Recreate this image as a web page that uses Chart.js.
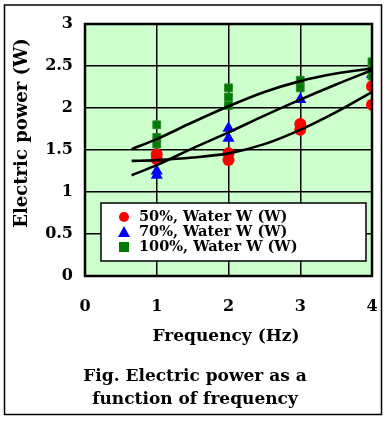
<!DOCTYPE html>
<html><head><meta charset="utf-8">
<script src="https://cdn.jsdelivr.net/npm/chart.js@4/dist/chart.umd.min.js"></script>
<style>html,body{margin:0;padding:0;background:#fff}#wrap{width:386px;height:421px}</style>
</head><body><div id="wrap"><canvas id="c"></canvas></div>
<script>
// measured points (x = frequency Hz, y = power W)
const redX=[1,1,2,2,3,3,4,4];
const redY=[1.39,1.45,1.38,1.46,1.74,1.81,2.04,2.26];
const blueX=[1,1,2,2,3,4];
const blueY=[1.2,1.25,1.64,1.76,2.1,2.4];
const greenX=[1,1,1,2,2,2,3,3,4,4,4];
const greenY=[1.57,1.65,1.8,2.03,2.13,2.24,2.24,2.33,2.38,2.46,2.55];
// fitted curves
const fitX=[0.65,1,1.5,2,2.5,3,3.5,4];
const fit50=[1.37,1.38,1.41,1.46,1.57,1.74,1.95,2.19];
const fit70=[1.2,1.32,1.52,1.71,1.91,2.1,2.28,2.45];
const fit100=[1.51,1.63,1.83,2.02,2.19,2.32,2.41,2.47];
const legendLabels=['50%, Water W (W)','70%, Water W (W)','100%, Water W (W)'];
const xTicks=[0,1,2,3,4];
const yTickLabels=['0','0.5','1','1.5','2','2.5','3'];

const pts=(xs,ys)=>xs.map((x,i)=>({x,y:ys[i]}));
const F='"DejaVu Serif", serif';
const fitDs=(d)=>({type:'line',data:pts(fitX,d),borderColor:'#000',borderWidth:2.6,pointRadius:0,tension:0.3,order:0});

const deco={id:'deco',
  beforeDraw(ch){const {ctx,chartArea:a}=ch;ctx.save();ctx.fillStyle='#ccffcc';ctx.fillRect(a.left,a.top,a.right-a.left,a.bottom-a.top);ctx.restore();},
  afterDraw(ch){const {ctx,chartArea:a}=ch;ctx.save();
    ctx.strokeStyle='#000';ctx.lineWidth=2.5;ctx.strokeRect(a.left,a.top,a.right-a.left,a.bottom-a.top);
    // legend
    const lx=101,ly=203,lw=265,lh=58;
    ctx.fillStyle='#fff';ctx.fillRect(lx,ly,lw,lh);ctx.lineWidth=1.5;ctx.strokeRect(lx,ly,lw,lh);
    ctx.font='bold 14.5px '+F;ctx.fillStyle='#000';ctx.textBaseline='middle';ctx.textAlign='left';
    const rows=[217,232,247];
    legendLabels.forEach((t,i)=>{ctx.fillStyle='#000';ctx.fillText(t,139,rows[i]);});
    ctx.fillStyle='#f00';ctx.beginPath();ctx.arc(124,rows[0],5,0,Math.PI*2);ctx.fill();
    ctx.fillStyle='#00f';ctx.beginPath();ctx.moveTo(124,rows[1]-6);ctx.lineTo(130,rows[1]+5);ctx.lineTo(118,rows[1]+5);ctx.closePath();ctx.fill();
    ctx.fillStyle='#007a00';ctx.fillRect(119,rows[2]-5,10,10);
    // axis titles + caption
    ctx.fillStyle='#000';ctx.textAlign='center';ctx.font='bold 17px '+F;
    ctx.fillText('Frequency (Hz)',226,337);
    ctx.font='bold 17px '+F;
    ctx.fillText('Fig. Electric power as a',195,377);
    ctx.fillText('function of frequency',195,400);
    ctx.save();ctx.translate(22,133);ctx.rotate(-Math.PI/2);ctx.font='bold 18px '+F;ctx.fillText('Electric power (W)',0,0);ctx.restore();
    // outer frame
    ctx.lineWidth=1.5;ctx.strokeRect(4.5,5,377,409.5);
    ctx.restore();}
};

new Chart(document.getElementById('c'),{
  type:'scatter',
  data:{datasets:[
    fitDs(fit50),fitDs(fit70),fitDs(fit100),
    {label:legendLabels[2],data:pts(greenX,greenY),pointStyle:'rect',pointRadius:5.5,backgroundColor:'#007a00',borderColor:'#2a8a2a',borderWidth:1,order:1},
    {label:legendLabels[0],data:pts(redX,redY),pointStyle:'circle',pointRadius:6,backgroundColor:'#ff0000',borderColor:'#ff0000',borderWidth:0,order:2},
    {label:legendLabels[1],data:pts(blueX,blueY),pointStyle:'triangle',pointRadius:7,backgroundColor:'#0000ff',borderColor:'#0000ff',borderWidth:0,order:3}
  ]},
  options:{responsive:true,maintainAspectRatio:false,animation:false,
    layout:{padding:{left:0,right:14,top:24,bottom:0}},
    plugins:{legend:{display:false},tooltip:{enabled:false}},
    scales:{
      x:{type:'linear',min:0,max:4,afterBuildTicks:s=>{s.ticks=xTicks.map(v=>({value:v}));},
        afterFit:s=>{s.height=145;s.paddingLeft=0;s.paddingRight=0;},
        grid:{color:'#000',lineWidth:1.5,drawTicks:false},border:{display:false},
        ticks:{color:'#000',padding:21,font:{family:F,weight:'bold',size:16}}},
      y:{min:0,max:3,afterFit:s=>{s.width=85;s.paddingTop=0;s.paddingBottom=0;},
        grid:{color:'#000',lineWidth:1.5,drawTicks:false},border:{display:false},
        ticks:{stepSize:0.5,color:'#000',padding:12,font:{family:F,weight:'bold',size:16},
          callback:(v,i)=>yTickLabels[i]}}
    }},
  plugins:[deco]
});
</script></body></html>
